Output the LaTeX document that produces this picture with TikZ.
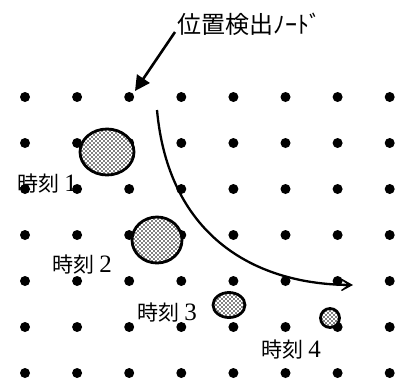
\documentclass[tikz,border=0pt]{standalone}
\usepackage{fontspec}
\newfontfamily\jp{Noto Sans CJK JP}
\setmainfont{Liberation Serif}
\usetikzlibrary{patterns,arrows.meta}
\pgfdeclarepatternformonly{blobdots}{\pgfqpoint{-1pt}{-1pt}}{\pgfqpoint{3pt}{3pt}}{\pgfqpoint{4pt}{4pt}}{%
  \pgfpathcircle{\pgfqpoint{0pt}{0pt}}{0.95pt}%
  \pgfpathcircle{\pgfqpoint{2pt}{2pt}}{0.95pt}%
  \pgfusepath{fill}}
\begin{document}
\begin{tikzpicture}[x=1pt,y=-1pt,
  griddot/.style={circle,fill=black,inner sep=0pt,minimum size=10pt},
  blob/.style={draw=black,line width=2.8pt,fill=white,postaction={pattern=blobdots,pattern color=black}},
  lbl/.style={inner sep=0pt,font=\fontsize{21}{24}\selectfont},
  arr/.style={line width=2.6pt}]
\useasboundingbox (0,0) rectangle (396,381);
% grid of dots
\foreach \i in {0,...,7}{
  \foreach \j in {0,...,6}{
    \node[griddot] (d\i\j) at ({25+52.1*\i},{97+46*\j}) {};
  }
}
% blobs
\draw[blob] (107,152) ellipse [x radius=27,y radius=23];
\draw[blob] (157,240) ellipse [x radius=25,y radius=23];
\draw[blob] (229,305) ellipse [x radius=16,y radius=12.5];
\draw[blob] (330,318) circle [radius=9.5];
% labels
\node[lbl,anchor=west] (t1) at (17,184) {{\jp 時刻} {\fontsize{25}{26}\selectfont 1}};
\node[lbl,anchor=west] (t2) at (52,265) {{\jp 時刻} {\fontsize{25}{26}\selectfont 2}};
\node[lbl,anchor=west] (t3) at (137,313) {{\jp 時刻} {\fontsize{25}{26}\selectfont 3}};
\node[lbl,anchor=west] (t4) at (261,350) {{\jp 時刻} {\fontsize{25}{26}\selectfont 4}};
\node[lbl,anchor=west,font=\fontsize{24}{26}\selectfont\jp] (top) at (177,24) {位置検出ﾉｰﾄﾞ};
% arrows
\coordinate (ts) at (175,32);
\coordinate (te) at (135,91);
\coordinate (cs) at (157,110);
\coordinate (ce) at (353,285);
\draw[arr,-{Triangle[length=15pt,width=15pt]}] (ts) -- (te);
\draw[line width=2.3pt,-{Stealth[length=19pt,width=21pt,inset=14pt]}] (cs) .. controls (168,232) and (250,284) .. (ce);
\end{tikzpicture}
\end{document}
